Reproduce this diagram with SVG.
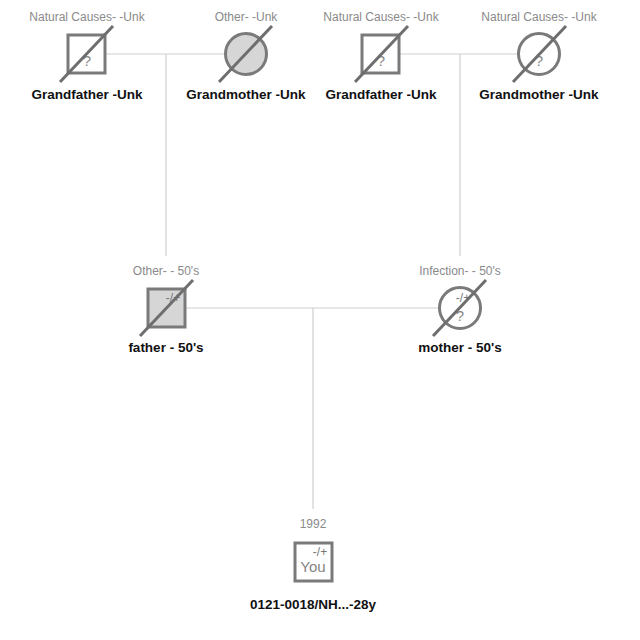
<svg xmlns="http://www.w3.org/2000/svg" width="640" height="640" viewBox="0 0 640 640">
  <style>
    text { font-family: "Liberation Sans", Arial, sans-serif; }
    .cause { font-size: 12px; fill: #8a8a8a; text-anchor: middle; }
    .name { font-size: 13.5px; font-weight: bold; fill: #111; text-anchor: middle; }
    .sym { fill: #fff; stroke: #7a7a7a; stroke-width: 3; }
    .aff { fill: #d6d6d6; }
    .dead { stroke: #6e6e6e; stroke-width: 3; }
    .mark { font-size: 15px; fill: #858585; text-anchor: middle; }
    .pm { font-size: 12px; fill: #777; text-anchor: middle; }
    .link { stroke: #cfcfcf; stroke-width: 1.2; fill: none; }
  </style>

  <!-- connectors -->
  <g id="connectors">
    <line class="link" x1="105" y1="54" x2="226" y2="54"/>
    <line class="link" x1="166" y1="54" x2="166" y2="256"/>
    <line class="link" x1="400" y1="54" x2="519" y2="54"/>
    <line class="link" x1="460" y1="54" x2="460" y2="256"/>
    <line class="link" x1="186" y1="308" x2="440" y2="308"/>
    <line class="link" x1="313" y1="308" x2="313" y2="509"/>
  </g>

  <!-- paternal grandfather -->
  <g id="grandfather-paternal">
    <text class="cause" x="87" y="21">Natural Causes- -Unk</text>
    <rect class="sym" x="68" y="35" width="37" height="38"/>
    <text class="mark" x="87" y="66">?</text>
    <line class="dead" x1="60" y1="82" x2="113" y2="26"/>
    <text class="name" x="87" y="99">Grandfather -Unk</text>
  </g>

  <!-- paternal grandmother -->
  <g id="grandmother-paternal">
    <text class="cause" x="246" y="21">Other- -Unk</text>
    <circle class="sym aff" cx="246" cy="54" r="20.5"/>
    <line class="dead" x1="219" y1="82" x2="272" y2="26"/>
    <text class="name" x="246" y="99">Grandmother -Unk</text>
  </g>

  <!-- maternal grandfather -->
  <g id="grandfather-maternal">
    <text class="cause" x="381" y="21">Natural Causes- -Unk</text>
    <rect class="sym" x="362" y="35" width="37" height="38"/>
    <text class="mark" x="381" y="66">?</text>
    <line class="dead" x1="355" y1="82" x2="408" y2="26"/>
    <text class="name" x="381" y="99">Grandfather -Unk</text>
  </g>

  <!-- maternal grandmother -->
  <g id="grandmother-maternal">
    <text class="cause" x="539" y="21">Natural Causes- -Unk</text>
    <circle class="sym" cx="539" cy="54" r="20.5"/>
    <text class="mark" x="539" y="66">?</text>
    <line class="dead" x1="513" y1="82" x2="566" y2="26"/>
    <text class="name" x="539" y="99">Grandmother -Unk</text>
  </g>

  <!-- father -->
  <g id="father">
    <text class="cause" x="166" y="275">Other- - 50's</text>
    <rect class="sym aff" x="148" y="289" width="37" height="38"/>
    <text class="pm" x="173" y="302">-/+</text>
    <line class="dead" x1="140" y1="336" x2="193" y2="280"/>
    <text class="name" x="166" y="352">father - 50's</text>
  </g>

  <!-- mother -->
  <g id="mother">
    <text class="cause" x="460" y="275">Infection- - 50's</text>
    <circle class="sym" cx="460" cy="308" r="20.5"/>
    <text class="pm" x="463" y="302">-/+</text>
    <text class="mark" x="460" y="321">?</text>
    <line class="dead" x1="433" y1="336" x2="486" y2="280"/>
    <text class="name" x="460" y="352">mother - 50's</text>
  </g>

  <!-- proband -->
  <g id="you">
    <text class="cause" x="313" y="528">1992</text>
    <rect class="sym" x="295" y="543" width="37" height="38"/>
    <text class="pm" x="320" y="556">-/+</text>
    <text x="313" y="572" style="font-size:15px; fill:#858585; text-anchor:middle">You</text>
    <text class="name" x="313" y="609">0121-0018/NH...-28y</text>
  </g>
</svg>
